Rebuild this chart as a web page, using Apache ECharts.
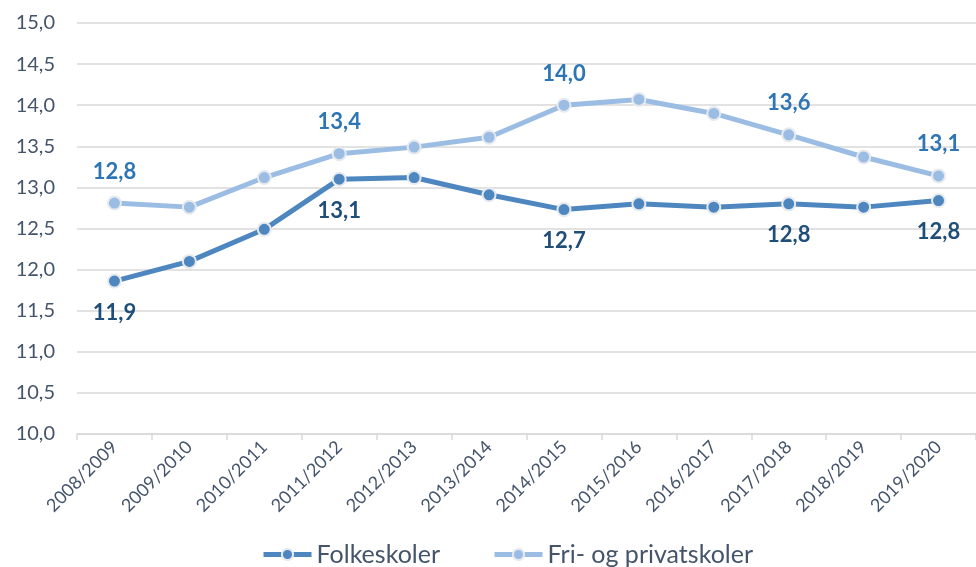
<!DOCTYPE html>
<html>
<head>
<meta charset="utf-8">
<script src="https://cdn.jsdelivr.net/npm/echarts@6/dist/echarts.min.js"></script>
<style>
  html, body { margin: 0; padding: 0; background: #fff; }
  #main { width: 976px; height: 567px; }
</style>
</head>
<body>
<div id="main"></div>
<script>
var years = ['2008/2009', '2009/2010', '2010/2011', '2011/2012', '2012/2013', '2013/2014',
             '2014/2015', '2015/2016', '2016/2017', '2017/2018', '2018/2019', '2019/2020'];
var folkeskoler = [11.86, 12.10, 12.49, 13.10, 13.12, 12.91, 12.73, 12.80, 12.76, 12.80, 12.76, 12.84];
var friskoler = [12.81, 12.76, 13.12, 13.41, 13.49, 13.61, 14.00, 14.07, 13.90, 13.64, 13.37, 13.14];
// punkter som har dataetikett
var labelIdx = [0, 3, 6, 9, 11];

function komma(v) {
  return v.toFixed(1).replace('.', ',');
}

function medEtiketter(arr) {
  return arr.map(function (v, i) {
    return { value: v, label: { show: labelIdx.indexOf(i) >= 0 } };
  });
}

var chart = echarts.init(document.getElementById('main'));
var option = {
  animation: false,
  textStyle: { fontFamily: 'Lato' },
  grid: { left: 77, right: -2, top: 23, bottom: 133 },
  legend: {
    bottom: -5,
    left: 256,
    itemGap: 52,
    itemWidth: 48,
    itemHeight: 14,
    lineStyle: { width: 5 },
    textStyle: { fontSize: 25, color: '#44546a', fontFamily: 'Lato' },
    data: ['Folkeskoler', 'Fri- og privatskoler']
  },
  xAxis: {
    type: 'category',
    data: years,
    boundaryGap: true,
    axisLine: { lineStyle: { color: '#d9d9d9', width: 1.5 } },
    axisTick: { show: true, length: 6, lineStyle: { color: '#d9d9d9', width: 1.5 } },
    axisLabel: { rotate: 45, fontSize: 18, color: '#44546a', margin: 10, interval: 0 }
  },
  yAxis: {
    type: 'value',
    min: 10,
    max: 15,
    interval: 0.5,
    axisLine: { show: false },
    axisTick: { show: false },
    splitLine: { lineStyle: { color: '#d9d9d9', width: 1.5 } },
    axisLabel: { fontSize: 20, color: '#44546a', margin: 22, formatter: komma }
  },
  series: [
    {
      name: 'Folkeskoler',
      type: 'line',
      data: medEtiketter(folkeskoler),
      symbol: 'circle',
      symbolSize: 13,
      lineStyle: { color: '#4e87bf', width: 5 },
      itemStyle: { color: '#4e87bf', borderColor: '#e6e9ee', borderWidth: 2 },
      label: {
        position: 'bottom', distance: 13, fontSize: 22, fontWeight: 'bold',
        color: '#1f4e79', formatter: function (p) { return komma(p.value); }
      },
      z: 3
    },
    {
      name: 'Fri- og privatskoler',
      type: 'line',
      data: medEtiketter(friskoler),
      symbol: 'circle',
      symbolSize: 13,
      lineStyle: { color: '#9bbde3', width: 5 },
      itemStyle: { color: '#9bbde3', borderColor: '#e6e9ee', borderWidth: 2 },
      label: {
        position: 'top', distance: 13, fontSize: 22, fontWeight: 'bold',
        color: '#2e75b6', formatter: function (p) { return komma(p.value); }
      },
      z: 2
    }
  ]
};
chart.setOption(option);
</script>
</body>
</html>
